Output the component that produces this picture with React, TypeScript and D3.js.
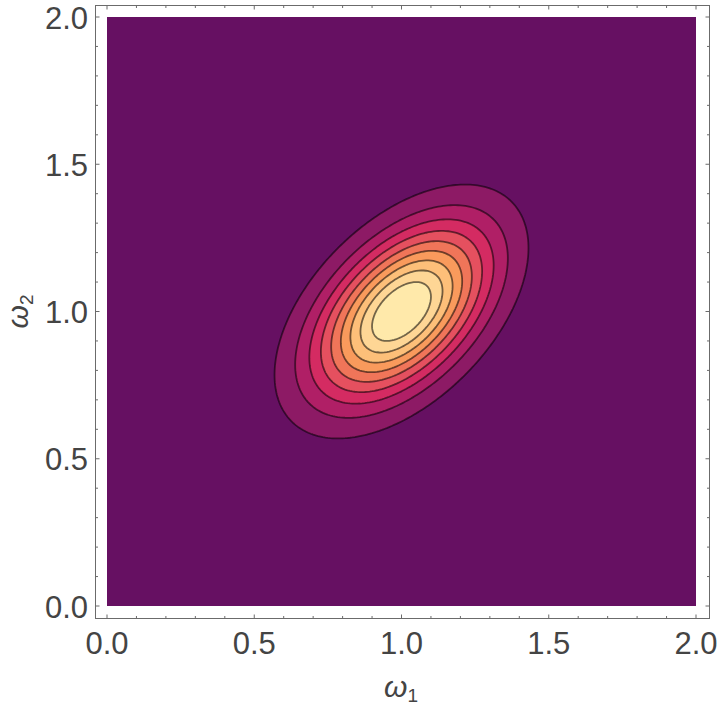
import React from "react";
import * as d3 from "d3";

const W = 720;
const H = 707;

// axes
const xDomain: [number, number] = [0, 2];
const yDomain: [number, number] = [0, 2];
const majorTicks = [0, 0.5, 1.0, 1.5, 2.0];
const tickLabels = ["0.0", "0.5", "1.0", "1.5", "2.0"];
const minorTicks = [0.1, 0.2, 0.3, 0.4, 0.6, 0.7, 0.8, 0.9, 1.1, 1.2, 1.3, 1.4, 1.6, 1.7, 1.8, 1.9];

// bivariate density parameters
const peak = 1.02;
const centerXY = [1.0, 1.0];
const sigmaXY = [0.2, 0.2];
const rho = 0.5;

// contour levels and fill colours (background + 9 bands)
const levels = [0.1, 0.2, 0.3, 0.4, 0.5, 0.6, 0.7, 0.8, 0.9];
const bandColors = [
  "#661062",
  "#8d1a65",
  "#b01f66",
  "#d42b62",
  "#e5505f",
  "#f07559",
  "#f99a5c",
  "#fdbf79",
  "#fed695",
  "#ffe9aa",
];

const N = 241;

export default function App() {
  const x = d3.scaleLinear().domain(xDomain).range([107, 696]);
  const y = d3.scaleLinear().domain(yDomain).range([606, 17]);
  const step = (xDomain[1] - xDomain[0]) / (N - 1);

  const values = new Array(N * N);
  for (let j = 0; j < N; j++) {
    const wy = yDomain[1] - j * step;
    for (let i = 0; i < N; i++) {
      const wx = xDomain[0] + i * step;
      const zx = (wx - centerXY[0]) / sigmaXY[0];
      const zy = (wy - centerXY[1]) / sigmaXY[1];
      const q = (zx * zx - 2 * rho * zx * zy + zy * zy) / (1 - rho * rho);
      values[j * N + i] = peak * Math.exp(-q / 2);
    }
  }

  const contours = d3.contours().size([N, N]).thresholds(levels)(values);
  const transform = d3.geoTransform({
    point(px: number, py: number) {
      (this as any).stream.point(
        x(xDomain[0] + (px - 0.5) * step),
        y(yDomain[1] - (py - 0.5) * step)
      );
    },
  });
  const path = d3.geoPath(transform);

  const fL = 95.5, fR = 709.5, fT = 5.5, fB = 618.5;
  const frameColor = "#6b6b6b";
  const labelColor = "#444444";
  const font = "'Liberation Sans', Arial, sans-serif";

  return (
    <svg width={W} height={H} style={{ position: "absolute", left: 0, top: 0, background: "#fff" }}>
      <rect x={x(0)} y={y(2)} width={x(2) - x(0)} height={y(0) - y(2)} fill={bandColors[0]} />
      {contours.map((c, k) => (
        <path key={"f" + k} d={path(c as any) || ""} fill={bandColors[k + 1]} stroke="none" />
      ))}
      {contours.map((c, k) => (
        <path key={"s" + k} d={path(c as any) || ""} fill="none" stroke="#000" strokeOpacity={0.55} strokeWidth={1.8} strokeLinejoin="round" />
      ))}
      {/* frame */}
      <rect x={fL} y={fT} width={fR - fL} height={fB - fT} fill="none" stroke={frameColor} strokeWidth={1} />
      {/* ticks */}
      {majorTicks.map((t, i) => (
        <g key={"mt" + i} stroke={frameColor} strokeWidth={1}>
          <line x1={x(t)} x2={x(t)} y1={fB} y2={fB - 4} />
          <line x1={x(t)} x2={x(t)} y1={fT} y2={fT + 4} />
          <line x1={fL} x2={fL + 4} y1={y(t)} y2={y(t)} />
          <line x1={fR} x2={fR - 4} y1={y(t)} y2={y(t)} />
        </g>
      ))}
      {minorTicks.map((t, i) => (
        <g key={"nt" + i} stroke={frameColor} strokeWidth={1}>
          <line x1={x(t)} x2={x(t)} y1={fB} y2={fB - 2.5} />
          <line x1={x(t)} x2={x(t)} y1={fT} y2={fT + 2.5} />
          <line x1={fL} x2={fL + 2.5} y1={y(t)} y2={y(t)} />
          <line x1={fR} x2={fR - 2.5} y1={y(t)} y2={y(t)} />
        </g>
      ))}
      {/* tick labels */}
      {majorTicks.map((t, i) => (
        <text key={"xl" + i} x={x(t)} y={654} textAnchor="middle" fontFamily={font} fontSize={31} fill={labelColor}>
          {tickLabels[i]}
        </text>
      ))}
      {majorTicks.map((t, i) => (
        <text key={"yl" + i} x={88} y={y(t) + 11.5} textAnchor="end" fontFamily={font} fontSize={31} fill={labelColor}>
          {tickLabels[i]}
        </text>
      ))}
      {/* axis labels */}
      <text x={401} y={697} textAnchor="middle" fontFamily={font} fontSize={30} fill={labelColor}>
        <tspan fontStyle="italic">ω</tspan>
        <tspan fontSize={19} dy={5}>1</tspan>
      </text>
      <text transform={`translate(28,${y(1)}) rotate(-90)`} textAnchor="middle" fontFamily={font} fontSize={30} fill={labelColor}>
        <tspan fontStyle="italic">ω</tspan>
        <tspan fontSize={19} dy={5}>2</tspan>
      </text>
    </svg>
  );
}
